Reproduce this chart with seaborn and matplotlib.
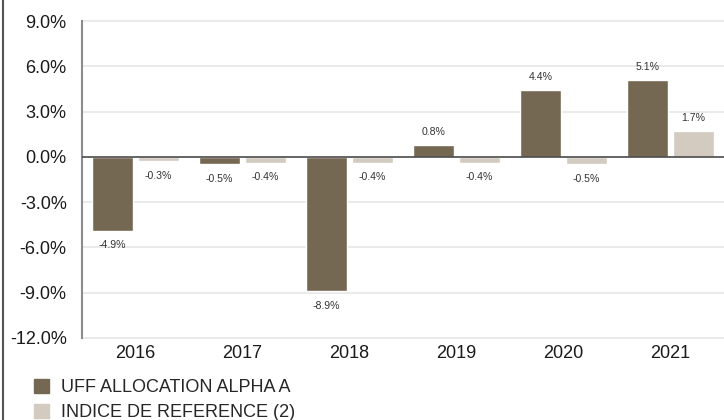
import pandas as pd
import numpy as np
import matplotlib
matplotlib.use("Agg")
import matplotlib.pyplot as plt
import seaborn as sns
from matplotlib.lines import Line2D
from matplotlib.ticker import FuncFormatter

# données
years = ["2016", "2017", "2018", "2019", "2020", "2021"]
fund_values = [-4.9, -0.5, -8.9, 0.8, 4.4, 5.1]
index_values = [-0.3, -0.4, -0.4, -0.4, -0.5, 1.7]
series_names = ["UFF ALLOCATION ALPHA A", "INDICE DE REFERENCE (2)"]
y_ticks = [-12, -9, -6, -3, 0, 3, 6, 9]

df = pd.DataFrame({
    "year": years * 2,
    "value": fund_values + index_values,
    "serie": [series_names[0]] * len(years) + [series_names[1]] * len(years),
})

sns.set_style("white")
plt.rcParams['font.family'] = ['Liberation Sans', 'DejaVu Sans']

W, H = 724, 420
fig = plt.figure(figsize=(W / 100, H / 100), dpi=100)
# axe : x 82 -> 724 px, y 21 -> 338 px
ax = fig.add_axes([82 / W, 1 - 338 / H, (W - 82) / W, (338 - 21) / H])

palette = {series_names[0]: "#756853", series_names[1]: "#D3CAC0"}
sns.barplot(data=df, x="year", y="value", hue="serie", palette=palette,
            width=0.858, gap=0.11, ax=ax, legend=False, saturation=1)

ax.set_ylim(-12, 9)
ax.set_xlim(-0.5, 5.5)
ax.set_yticks(y_ticks)
ax.yaxis.set_major_formatter(FuncFormatter(lambda v, p: f"{v:.1f}%"))
ax.tick_params(axis="both", labelsize=13, length=0, colors="#1a1a1a")
ax.tick_params(axis="x", pad=5)
ax.tick_params(axis="y", pad=11)
ax.set_xlabel("")
ax.set_ylabel("")
for y in y_ticks:
    if y != 0:
        ax.axhline(y, color="#E6E6E6", lw=1.2, zorder=0, clip_on=False)
ax.axhline(0, color="#4a4a4a", lw=1.2, zorder=3)

for s in ["top", "right", "bottom"]:
    ax.spines[s].set_visible(False)
ax.spines["left"].set_color("#8c8c8c")
ax.spines["left"].set_linewidth(1.5)

# étiquettes de valeur
for cont in ax.containers:
    for bar in cont:
        h = bar.get_height()
        x = bar.get_x() + bar.get_width() / 2
        dy = 9.5 if h >= 0 else -10.5
        ax.annotate(f"{h:.1f}%", (x, h), xytext=(0, dy), textcoords="offset points",
                    ha="center", va="center", fontsize=7.6, color="#333333")

# légende sous le graphique
handles = [plt.Rectangle((0, 0), 1, 1, color=palette[n]) for n in series_names]
fig.legend(handles, series_names, loc="center left", bbox_to_anchor=(34 / W, 1 - 400 / H),
           bbox_transform=fig.transFigure, frameon=False, fontsize=13,
           handlelength=0.83, handleheight=0.83, handletextpad=0.67,
           labelspacing=0.45, borderpad=0, borderaxespad=0)

# bordure gauche
fig.add_artist(Line2D([2.5 / W, 2.5 / W], [0, 1], color="#555555", lw=1.5, transform=fig.transFigure))

fig.savefig("out.png", dpi=100)
